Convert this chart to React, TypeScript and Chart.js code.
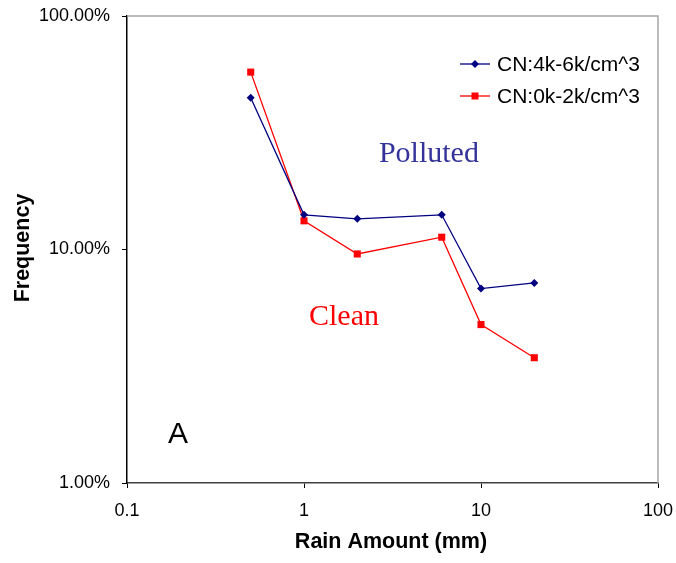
import React, { useEffect, useRef } from "react";
import { Chart, registerables } from "chart.js";
Chart.register(...registerables);

// ---- data ----
const rainAmounts = [0.5, 1, 2, 6, 10, 20];
const pollutedFreq = [0.447, 0.1408, 0.1353, 0.1408, 0.068, 0.0719];
const cleanFreq = [0.575, 0.1327, 0.0957, 0.1129, 0.0477, 0.0344];
const seriesNames = ["CN:4k-6k/cm^3", "CN:0k-2k/cm^3"];
const xTicks = [0.1, 1, 10, 100];
const yTicks = [0.01, 0.1, 1];
const xTitle = "Rain Amount (mm)";
const yTitle = "Frequency";
const noteTexts = ["Polluted", "Clean", "A"];
const noteX = [2.65, 1.067, 0.1705];
const noteY = [0.237, 0.0475, 0.01483];

const SANS = '"Liberation Sans", Arial, sans-serif';
const SERIF = '"Liberation Serif", "Times New Roman", serif';
const BLUE = "#000080";
const RED = "#ff0000";

const noteStyles = [
  { font: `30px ${SERIF}`, color: "#333399" },
  { font: `30px ${SERIF}`, color: "#ff0000" },
  { font: `30px ${SANS}`, color: "#000000" },
];

const zeroPad = (s: any) => {
  s.paddingTop = 0;
  s.paddingBottom = 0;
  s.paddingLeft = 0;
  s.paddingRight = 0;
};

const decorPlugin = {
  id: "decor",
  afterDraw(chart: any) {
    const ctx = chart.ctx;
    const { left, right, top, bottom } = chart.chartArea;
    const xs = chart.scales.x;
    const ys = chart.scales.y;
    ctx.save();
    // top & right gray frame
    ctx.strokeStyle = "#a6a6a6";
    ctx.lineWidth = 1.5;
    ctx.beginPath();
    ctx.moveTo(left, top);
    ctx.lineTo(right, top);
    ctx.lineTo(right, bottom);
    ctx.stroke();

    // axis titles
    ctx.fillStyle = "#000";
    ctx.font = `bold 21.5px ${SANS}`;
    ctx.textAlign = "center";
    ctx.textBaseline = "alphabetic";
    ctx.fillText(xTitle, 391, 548);
    ctx.save();
    ctx.translate(29, 248);
    ctx.rotate(-Math.PI / 2);
    ctx.fillText(yTitle, 0, 0);
    ctx.restore();

    // annotations
    ctx.textAlign = "left";
    noteTexts.forEach((t, i) => {
      ctx.font = noteStyles[i].font;
      ctx.fillStyle = noteStyles[i].color;
      ctx.fillText(t, xs.getPixelForValue(noteX[i]), ys.getPixelForValue(noteY[i]));
    });

    // legend
    const legendItems = [
      { name: seriesNames[0], color: BLUE, style: "diamond" },
      { name: seriesNames[1], color: RED, style: "square" },
    ];
    legendItems.forEach((it, i) => {
      const cy = 64 + i * 32;
      ctx.strokeStyle = it.color;
      ctx.lineWidth = 1.3;
      ctx.beginPath();
      ctx.moveTo(460, cy);
      ctx.lineTo(490, cy);
      ctx.stroke();
      ctx.fillStyle = it.color;
      if (it.style === "diamond") {
        ctx.beginPath();
        ctx.moveTo(475, cy - 4);
        ctx.lineTo(479, cy);
        ctx.lineTo(475, cy + 4);
        ctx.lineTo(471, cy);
        ctx.closePath();
        ctx.fill();
      } else {
        ctx.fillRect(471.5, cy - 3.5, 7, 7);
      }
      ctx.fillStyle = "#000";
      ctx.font = `21px ${SANS}`;
      ctx.textAlign = "left";
      ctx.textBaseline = "alphabetic";
      ctx.fillText(it.name, 497, cy + 6.5);
    });
    ctx.restore();
  },
};

export default function App() {
  const ref = useRef<HTMLCanvasElement | null>(null);
  useEffect(() => {
    if (!ref.current) return;
    const chart = new Chart(ref.current, {
      type: "line",
      data: {
        datasets: [
          {
            label: seriesNames[0],
            data: rainAmounts.map((x, i) => ({ x, y: pollutedFreq[i] })),
            borderColor: BLUE,
            backgroundColor: BLUE,
            borderWidth: 1.3,
            pointStyle: "rectRot",
            pointRadius: 4,
            pointBorderWidth: 0,
            tension: 0,
          },
          {
            label: seriesNames[1],
            data: rainAmounts.map((x, i) => ({ x, y: cleanFreq[i] })),
            borderColor: RED,
            backgroundColor: RED,
            borderWidth: 1.3,
            pointStyle: "rect",
            pointRadius: 5,
            pointBorderWidth: 0,
            tension: 0,
          },
        ],
      },
      options: {
        animation: false,
        responsive: false,
        devicePixelRatio: 1,
        layout: { padding: { left: 0, top: 16, right: 18, bottom: 0 } },
        plugins: { legend: { display: false }, tooltip: { enabled: false } },
        scales: {
          x: {
            type: "logarithmic",
            min: 0.1,
            max: 100,
            afterBuildTicks: (s: any) => {
              s.ticks = xTicks.map((v) => ({ value: v }));
            },
            afterFit: (s: any) => {
              s.height = 80;
              zeroPad(s);
            },
            ticks: {
              autoSkip: false,
              maxRotation: 0,
              padding: 12,
              color: "#000",
              font: { family: SANS, size: 18 },
              callback: (v: any) => String(v),
            },
            grid: {
              display: true,
              drawOnChartArea: false,
              drawTicks: true,
              tickLength: 5,
              color: "#000",
              lineWidth: 1,
            },
            border: { display: true, color: "#404040", width: 1.5 },
          },
          y: {
            type: "logarithmic",
            min: 0.01,
            max: 1,
            afterBuildTicks: (s: any) => {
              s.ticks = yTicks.map((v) => ({ value: v }));
            },
            afterFit: (s: any) => {
              s.width = 127;
              zeroPad(s);
            },
            ticks: {
              autoSkip: false,
              padding: 12,
              color: "#000",
              font: { family: SANS, size: 18 },
              callback: (v: any) => (Number(v) * 100).toFixed(2) + "%",
            },
            grid: {
              display: true,
              drawOnChartArea: false,
              drawTicks: true,
              tickLength: 5,
              color: "#000",
              lineWidth: 1,
            },
            border: { display: true, color: "#000", width: 1.5 },
          },
        },
      },
      plugins: [decorPlugin],
    } as any);
    return () => chart.destroy();
  }, []);
  return (
    <div style={{ position: "absolute", left: 0, top: 0, width: 676, height: 563, background: "#fff" }}>
      <canvas ref={ref} width={676} height={563} style={{ width: 676, height: 563 }} />
    </div>
  );
}
